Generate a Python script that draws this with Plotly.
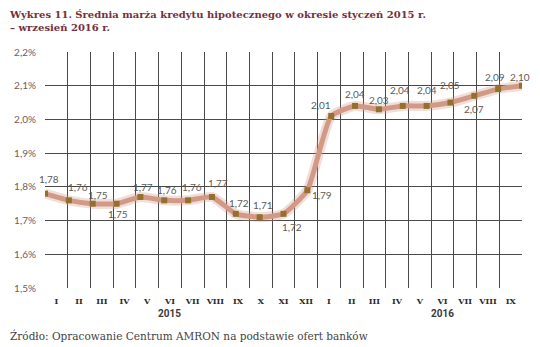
import plotly.graph_objects as go

# Average mortgage margin, Jan 2015 - Sep 2016 (percent)
months = ["I", "II", "III", "IV", "V", "VI", "VII", "VIII", "IX", "X", "XI", "XII",
          "I", "II", "III", "IV", "V", "VI", "VII", "VIII", "IX"]
years = ["2015", "2016"]
margin_pct = [1.78, 1.76, 1.75, 1.75, 1.77, 1.76, 1.76, 1.77, 1.72, 1.71, 1.72, 1.79,
              2.01, 2.04, 2.03, 2.04, 2.04, 2.05, 2.07, 2.09, 2.10]
y_ticks = [1.5, 1.6, 1.7, 1.8, 1.9, 2.0, 2.1, 2.2]

# pixel offsets of each value label relative to its point (dx right, dy up)
label_offsets = [(4, 15), (9, 13), (5, 9), (1, -10), (3, 10), (3, 10), (4, 13), (6, 14),
                 (3, 11), (3, 12), (8, -13), (15, -5), (-10, 11), (0, 12), (0, 9),
                 (-3, 16), (0, 16), (0, 18), (0, -13), (-3, 12), (-2, 9)]

n = len(months)
idx = list(range(n))

fig = go.Figure()

# soft halo under the line
fig.add_trace(go.Scatter(
    x=idx, y=margin_pct, xaxis="x2", mode="lines",
    line=dict(color="rgba(205,150,130,0.30)", width=10, shape="spline", smoothing=0.5),
    hoverinfo="skip", showlegend=False))
fig.add_trace(go.Scatter(
    x=idx, y=margin_pct, xaxis="x2", mode="lines+markers",
    line=dict(color="#d29a86", width=5, shape="spline", smoothing=0.5),
    marker=dict(symbol="square", size=6, color="#93702e"),
    showlegend=False))

def fmt(v):
    return f"{v:.2f}".replace(".", ",")

for i, v in enumerate(margin_pct):
    dx, dy = label_offsets[i]
    fig.add_annotation(x=i, y=v, xref="x2", yref="y", text=fmt(v), showarrow=False,
                       xshift=dx, yshift=dy,
                       font=dict(family="Lato", size=10, color="#5a5a5a"))

# year labels under the month axis
for x_pos, yr in zip([5, 17], years):
    fig.add_annotation(x=x_pos, y=0, xref="x", yref="paper", text=f"<b>{yr}</b>",
                       showarrow=False, yshift=-33,
                       font=dict(family="Roboto", size=10, color="#3a3a3a"))

# title and source
fig.add_annotation(x=0, y=1, xref="paper", yref="paper", xanchor="left", yanchor="top",
                   text="<b>Wykres 11. Średnia marża kredytu hipotecznego w okresie styczeń 2015 r.<br>– wrzesień 2016 r.</b>",
                   align="left", showarrow=False, xshift=-38, yshift=45,
                   font=dict(family="DejaVu Serif", size=10, color="#74303c"))
fig.add_annotation(x=0, y=0, xref="paper", yref="paper", xanchor="left", yanchor="top",
                   text="Źródło: Opracowanie Centrum AMRON na podstawie ofert banków",
                   showarrow=False, xshift=-37, yshift=-39,
                   font=dict(family="DejaVu Serif", size=10.5, color="#444444"))

fig.update_layout(
    width=540, height=347,
    margin=dict(l=45, r=18, t=52, b=59),
    paper_bgcolor="white", plot_bgcolor="white",
    xaxis=dict(range=[-0.5, n - 0.5], tickvals=idx, ticktext=[f"<b>{m}</b>" for m in months],
               showgrid=False, zeroline=False, ticks="", ticklabelstandoff=7,
               tickfont=dict(family="DejaVu Serif", size=8, color="#2a2a2a"),
               minor=dict(tick0=-0.5, dtick=1, showgrid=True, gridcolor="#4a4a4a",
                          gridwidth=1, ticks="")),
    xaxis2=dict(range=[0, n - 1], overlaying="x", visible=False),
    yaxis=dict(range=[1.5, 2.2], tickvals=y_ticks,
               ticktext=[f"{t:.1f}%".replace(".", ",") for t in y_ticks],
               showgrid=True, gridcolor="#4a4a4a", gridwidth=1, zeroline=False,
               ticks="", ticklabelstandoff=8,
               tickfont=dict(family="Lato", size=10, color="#6e5c5e")),
)

fig.write_html("out.html")
